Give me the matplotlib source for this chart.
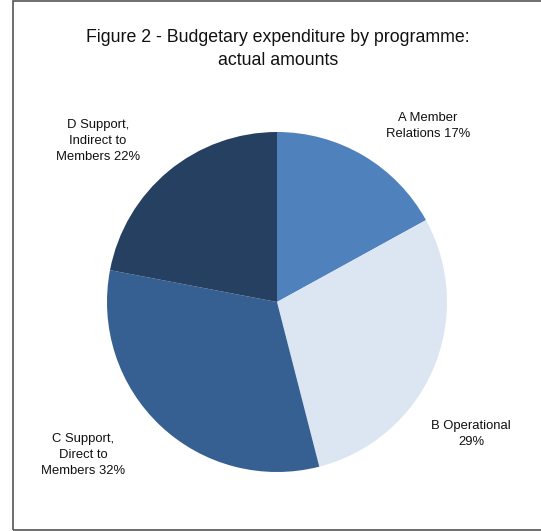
import matplotlib.pyplot as plt
from matplotlib.patches import Rectangle
from matplotlib import font_manager

names = ["A Member\nRelations", "B Operational\n", "C Support,\nDirect to\nMembers", "D Support,\nIndirect to\nMembers"]
shares = [17, 29, 32, 22]
colors = ["#4F81BD", "#DCE6F2", "#376092", "#254061"]

avail = {f.name for f in font_manager.fontManager.ttflist}
fam = "Liberation Sans Narrow" if "Liberation Sans Narrow" in avail else "Liberation Sans"
plt.rcParams['font.family'] = [fam, 'DejaVu Sans']

fig = plt.figure(figsize=(5.41, 5.31), dpi=100)
W, H = 541, 531

# outer frame
fig.patches.append(Rectangle((13 / W, 1 - 530 / H), 1.0, 529 / H, transform=fig.transFigure,
                             fill=False, edgecolor="#555555", linewidth=1.2))

ax = fig.add_axes([(277 - 170) / W, (531 - 472) / H, 340 / W, 340 / H])
ax.pie(shares, colors=colors, startangle=90, counterclock=False, radius=1,
       wedgeprops=dict(linewidth=0))
ax.set_xlim(-1, 1)
ax.set_ylim(-1, 1)
ax.set_aspect("equal")
ax.axis("off")

fig.text(278 / W, 1 - 49 / H, "Figure 2 - Budgetary expenditure by programme:\nactual amounts",
         ha="center", va="center", fontsize=12.8, color="#111111", linespacing=1.4)

labels = []
for n, s in zip(names, shares):
    if n.endswith("\n"):
        labels.append(n + f"{s}%")
    else:
        labels.append(n + f" {s}%")

pos = [(428, 126), (471, 434), (83, 455), (98, 141)]
for lab, (x, y) in zip(labels, pos):
    fig.text(x / W, 1 - y / H, lab, ha="center", va="center", fontsize=9.4,
             color="#111111", linespacing=1.45)

fig.savefig("out.png", dpi=100)
